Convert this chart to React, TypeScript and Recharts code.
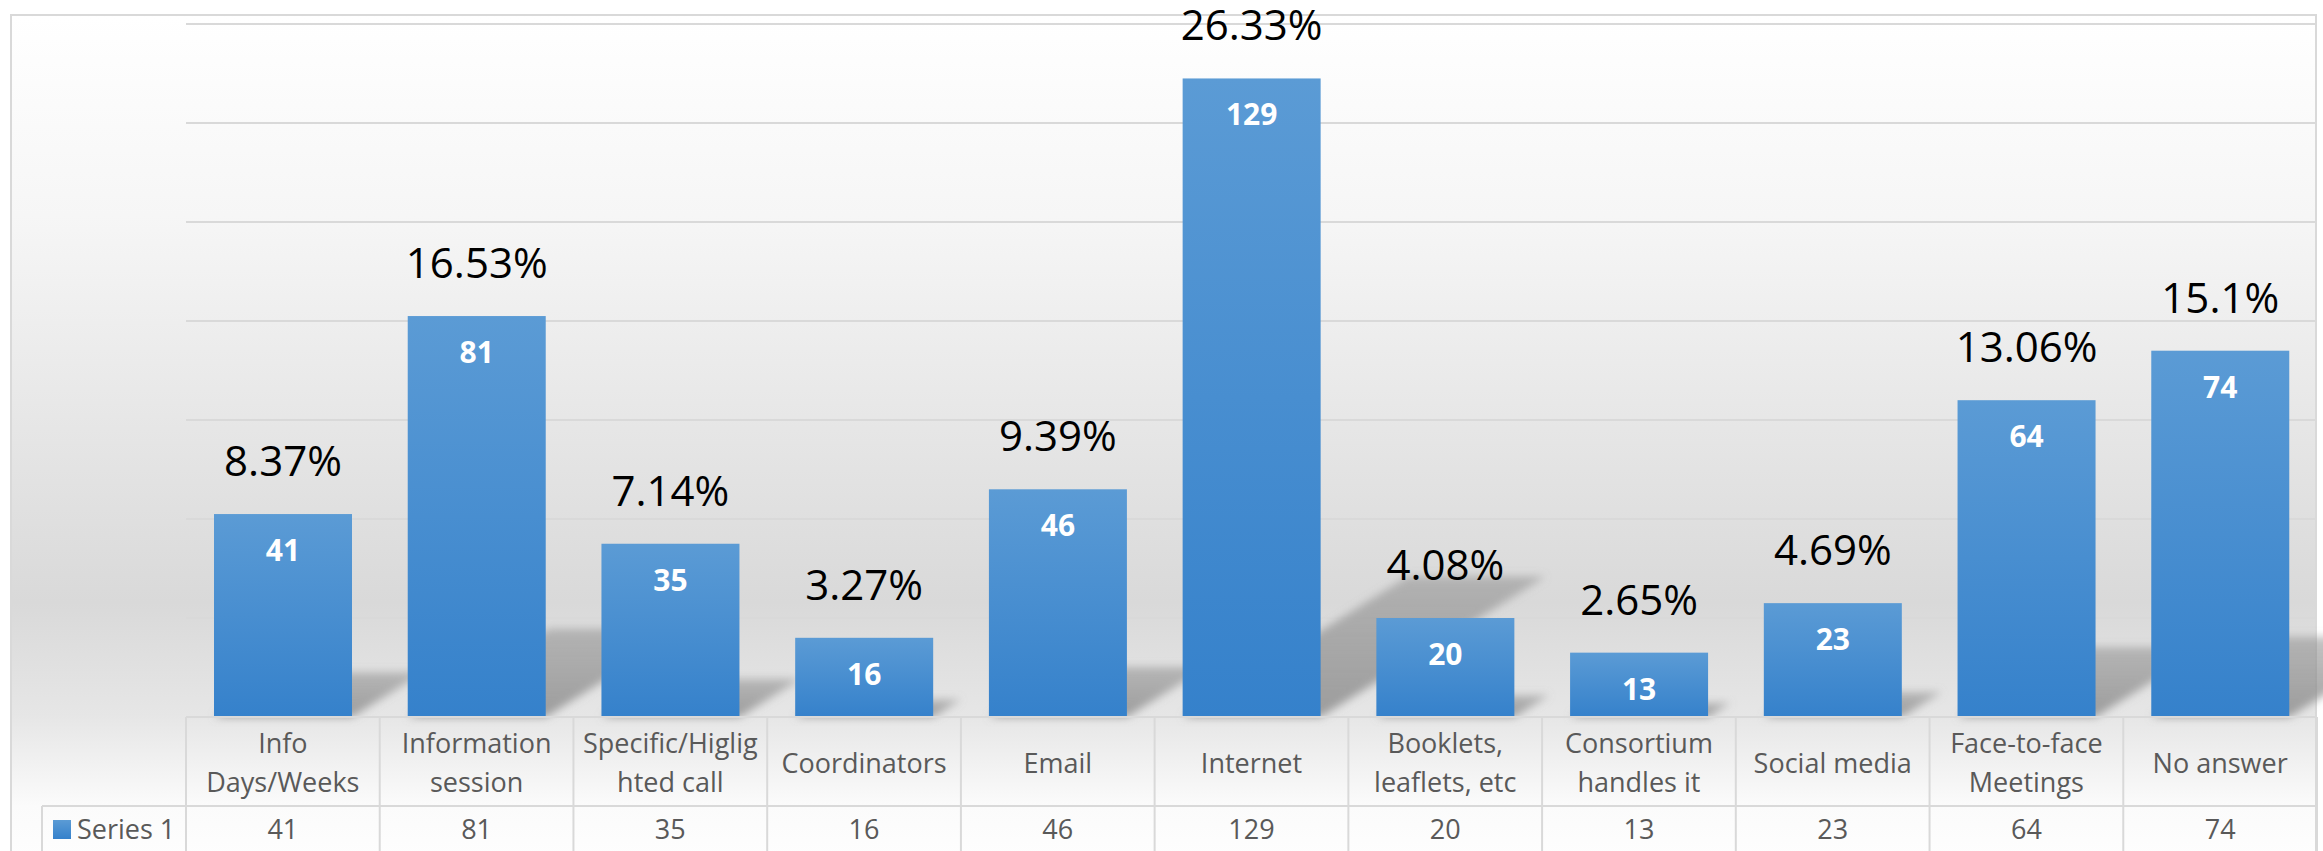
import React from "react";
import { BarChart, Bar, XAxis, YAxis, CartesianGrid, LabelList } from "recharts";

// values
const categories = [
  "Info\nDays/Weeks",
  "Information\nsession",
  "Specific/Higlig\nhted call",
  "Coordinators",
  "Email",
  "Internet",
  "Booklets,\nleaflets, etc",
  "Consortium\nhandles it",
  "Social media",
  "Face-to-face\nMeetings",
  "No answer",
];
const counts = [41, 81, 35, 16, 46, 129, 20, 13, 23, 64, 74];
const shares = ["8.37%", "16.53%", "7.14%", "3.27%", "9.39%", "26.33%", "4.08%", "2.65%", "4.69%", "13.06%", "15.1%"];
const yTicks = [0, 20, 40, 60, 80, 100, 120, 140];
const seriesName = "Series 1";

const data = categories.map((name, i) => ({ name, value: counts[i], share: shares[i] }));

const W = 2323;
const H = 851;
const PLOT_LEFT = 186;
const PLOT_RIGHT = 2317;
const BASE_Y = 717;
const ROW_Y = 806;
const BAND = (PLOT_RIGHT - PLOT_LEFT) / categories.length;
const GRID = "#d9d9d9";
const FONT = "'Open Sans', sans-serif";

const BarWithShadow = (props: any) => {
  const { x, y, width, height, index } = props;
  if (!height || height <= 0) return null;
  const b = y + height;
  const sh = height * 0.22;
  const dx = sh * 1.6;
  const pts = `${x},${b} ${x + width},${b} ${x + width + dx},${b - sh} ${x + dx},${b - sh}`;
  return (
    <g>
      <defs>
        <linearGradient id={`bar-fill-${index}`} x1="0" y1="0" x2="0" y2="1">
          <stop offset="0%" stopColor="#5b9bd5" />
          <stop offset="100%" stopColor="#3581cb" />
        </linearGradient>
        <linearGradient id={`shadow-fill-${index}`} x1="0" y1="1" x2="0" y2="0">
          <stop offset="0%" stopColor="#8a8a8a" stopOpacity={0.8} />
          <stop offset="100%" stopColor="#8a8a8a" stopOpacity={0.5} />
        </linearGradient>
        <filter id={`shadow-blur-${index}`} x="-20%" y="-50%" width="140%" height="200%">
          <feGaussianBlur stdDeviation={4} />
        </filter>
      </defs>
      <polygon points={pts} fill={`url(#shadow-fill-${index})`} filter={`url(#shadow-blur-${index})`} />
      <rect x={x} y={y} width={width} height={height} fill={`url(#bar-fill-${index})`} />
    </g>
  );
};

const ShareLabel = (props: any) => {
  const { x, y, width, value } = props;
  return (
    <text x={x + width / 2} y={y - 38} textAnchor="middle" fontFamily={FONT} fontSize={42} fill="#000">
      {value}
    </text>
  );
};

const CountLabel = (props: any) => {
  const { x, y, width, value } = props;
  return (
    <text x={x + width / 2} y={y + 47} textAnchor="middle" fontFamily={FONT} fontSize={30} fontWeight={700} fill="#fff">
      {value}
    </text>
  );
};

// category axis drawn as Excel's data table
const TableTick = (props: any) => {
  const { x, payload } = props;
  const i = payload.index;
  const lines = String(payload.value).split("\n");
  const left = x - BAND / 2;
  const right = x + BAND / 2;
  const lineH = 39;
  const mid = (BASE_Y + ROW_Y) / 2 + 2;
  const startY = mid - ((lines.length - 1) * lineH) / 2;
  return (
    <g>
      <line x1={left} y1={BASE_Y} x2={right} y2={BASE_Y} stroke={GRID} strokeWidth={2} />
      <line x1={left} y1={ROW_Y} x2={right} y2={ROW_Y} stroke={GRID} strokeWidth={2} />
      <line x1={left} y1={BASE_Y} x2={left} y2={H} stroke={GRID} strokeWidth={2} />
      {i === categories.length - 1 && (
        <line x1={right} y1={BASE_Y} x2={right} y2={H} stroke={GRID} strokeWidth={2} />
      )}
      {lines.map((ln, k) => (
        <text key={k} x={x} y={startY + k * lineH} dy="0.35em" textAnchor="middle" fontFamily={FONT} fontSize={27} fill="#595959">
          {ln}
        </text>
      ))}
      <text x={x} y={830} dy="0.35em" textAnchor="middle" fontFamily={FONT} fontSize={27} fill="#595959">
        {counts[i]}
      </text>
      {i === 0 && (
        <g>
          <defs>
            <linearGradient id="legend-fill" x1="0" y1="0" x2="0" y2="1">
              <stop offset="0%" stopColor="#5b9bd5" />
              <stop offset="100%" stopColor="#3581cb" />
            </linearGradient>
          </defs>
          <line x1={42} y1={ROW_Y} x2={left} y2={ROW_Y} stroke={GRID} strokeWidth={2} />
          <line x1={42} y1={ROW_Y} x2={42} y2={H} stroke={GRID} strokeWidth={2} />
          <rect x={53} y={820} width={18} height={19} fill="url(#legend-fill)" />
          <text x={77} y={830} dy="0.35em" fontFamily={FONT} fontSize={27} fill="#595959">
            {seriesName}
          </text>
        </g>
      )}
    </g>
  );
};

export default function App() {
  return (
    <div style={{ position: "absolute", left: 0, top: 0, width: W, height: H, overflow: "hidden", background: "#fff" }}>
      <div
        style={{
          position: "absolute",
          left: 10,
          top: 14,
          width: 2307,
          height: 860,
          boxSizing: "border-box",
          border: `2px solid ${GRID}`,
          background:
            "linear-gradient(to bottom, #ffffff 0px, #f6f6f6 200px, #d9d9d9 586px, #e6e6e6 700px, #fbfbfb 790px, #ffffff 860px)",
        }}
      />
      <div style={{ position: "absolute", left: 0, top: 0 }}>
        <BarChart
          width={W}
          height={H}
          data={data}
          margin={{ top: 24, right: W - PLOT_RIGHT, bottom: 0, left: PLOT_LEFT }}
          style={{ fontFamily: FONT }}
        >
          <CartesianGrid vertical={false} stroke={GRID} strokeWidth={2} />
          <XAxis
            dataKey="name"
            interval={0}
            tickLine={false}
            axisLine={false}
            height={H - BASE_Y}
            tick={<TableTick />}
          />
          <YAxis hide domain={[0, 140]} ticks={yTicks} width={0} />
          <Bar dataKey="value" barSize={138} shape={<BarWithShadow />} isAnimationActive={false}>
            <LabelList dataKey="share" content={<ShareLabel />} />
            <LabelList dataKey="value" content={<CountLabel />} />
          </Bar>
        </BarChart>
      </div>
    </div>
  );
}
